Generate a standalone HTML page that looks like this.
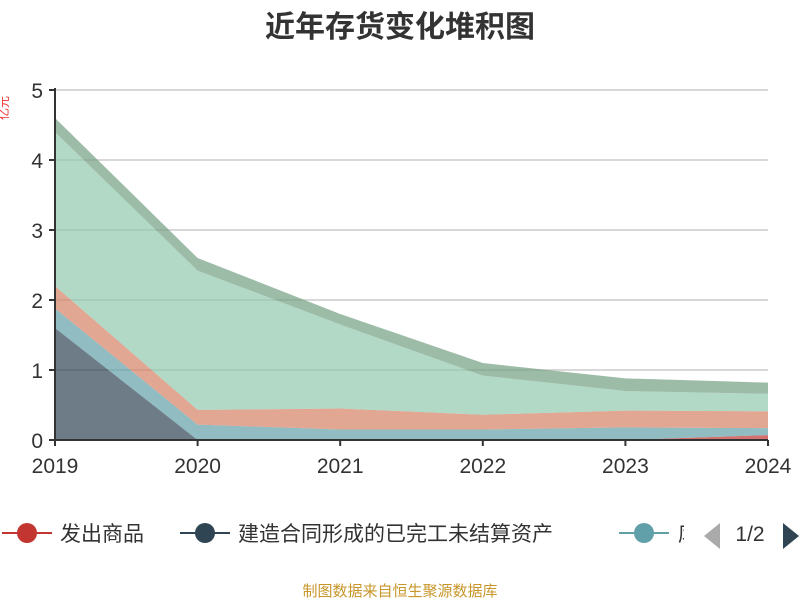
<!DOCTYPE html>
<html><head><meta charset="utf-8"><style>
body{margin:0;background:#fff;}
svg{display:block;font-family:"Liberation Sans","Noto Sans CJK SC",sans-serif;}
</style></head><body>
<svg id="chart" width="800" height="600">
<text x="400" y="37" text-anchor="middle" font-size="30" font-weight="bold" fill="#333">近年存货变化堆积图</text>
<g id="grid"></g>
<g id="areas"></g>
<g id="axes"></g>
<text x="0" y="0" transform="translate(8,120) rotate(-90)" font-size="12" fill="#e33">亿元</text>
<g>
<g><line x1="2" y1="533" x2="52" y2="533" stroke="#c23531" stroke-width="2"/><circle cx="27" cy="533" r="10" fill="#c23531"/><text x="60" y="541" font-size="21" fill="#333">发出商品</text></g>
<g><line x1="180" y1="533" x2="230" y2="533" stroke="#2f4554" stroke-width="2"/><circle cx="205" cy="533" r="10" fill="#2f4554"/><text x="238" y="541" font-size="21" fill="#333">建造合同形成的已完工未结算资产</text></g>
<g><line x1="619" y1="533" x2="669" y2="533" stroke="#61a0a8" stroke-width="2"/><circle cx="644" cy="533" r="10" fill="#61a0a8"/><clipPath id="lc"><rect x="676" y="510" width="8" height="40"/></clipPath><text x="678" y="541" font-size="21" fill="#333" clip-path="url(#lc)">库存商品</text></g>
<polygon points="720,523 720,549 704,536" fill="#aaa"/>
<text x="750" y="541" text-anchor="middle" font-size="21" fill="#333">1/2</text>
<polygon points="783,523 783,549 799,536" fill="#2f4554"/>
</g>
<text x="400" y="596" text-anchor="middle" font-size="15" fill="#c8962a">制图数据来自恒生聚源数据库</text>
</svg>
<script>
const years=["2019","2020","2021","2022","2023","2024"];
const yTicks=[0,1,2,3,4,5];
const sFachu=[0,0,0,0,0,0.07];
const sJianzao=[1.6,0,0,0,0,0];
const sTeal=[0.28,0.22,0.15,0.15,0.18,0.10];
const sSalmon=[0.32,0.21,0.30,0.21,0.24,0.24];
const sGreen=[2.2,1.99,1.2,0.56,0.28,0.25];
const sGray=[0.2,0.18,0.15,0.18,0.18,0.16];
const series=[[sFachu,"#c23531","area-fachu"],[sJianzao,"#2f4554","area-jianzao"],[sTeal,"#61a0a8","area-teal"],[sSalmon,"#d48265","area-salmon"],[sGreen,"#91c7ae","area-green"],[sGray,"#749f83","area-graygreen"]];
const X0=55,X1=768,Y0=440,PPU=70;
const xs=i=>X0+(X1-X0)*i/(years.length-1);
const ys=v=>Y0-v*PPU;
const NS="http://www.w3.org/2000/svg";
function mk(t,a,p){const e=document.createElementNS(NS,t);for(const k in a)e.setAttribute(k,a[k]);p.appendChild(e);return e;}
const grid=document.getElementById('grid'),axes=document.getElementById('axes'),areas=document.getElementById('areas');
yTicks.forEach(v=>{
 if(v>0){const g=mk('line',{x1:X0,x2:X1,y1:ys(v),y2:ys(v),stroke:'#ccc','stroke-width':1.5},grid);
 
 }
 const t=mk('line',{x1:X0-6,x2:X0,y1:ys(v),y2:ys(v),stroke:'#333','stroke-width':2},axes);
 
 
 const l=mk('text',{x:X0-12,y:ys(v)+8,'text-anchor':'end','font-size':21,fill:'#333'},axes);l.textContent=v;
 
 
});
let base=years.map(()=>0);
series.forEach(([vals,col,name])=>{
 const top=base.map((b,i)=>b+vals[i]);
 const pts=top.map((v,i)=>xs(i)+','+ys(v)).concat(base.map((v,i)=>xs(i)+','+ys(v)).reverse());
 const p=mk('polygon',{points:pts.join(' '),fill:col,'fill-opacity':0.7},areas);
 
 
 base=top;
});
const ya=mk('line',{x1:X0,x2:X0,y1:ys(5)-2,y2:Y0,stroke:'#333','stroke-width':2},axes);


const xa=mk('line',{x1:X0,x2:X1,y1:Y0,y2:Y0,stroke:'#333','stroke-width':2},axes);


years.forEach((y,i)=>{
 const t=mk('line',{x1:xs(i),x2:xs(i),y1:Y0,y2:Y0+6,stroke:'#333','stroke-width':2},axes);
 
 
 const l=mk('text',{x:xs(i),y:Y0+33,'text-anchor':'middle','font-size':21,fill:'#333'},axes);l.textContent=y;
 
 
});
</script>
</body></html>
